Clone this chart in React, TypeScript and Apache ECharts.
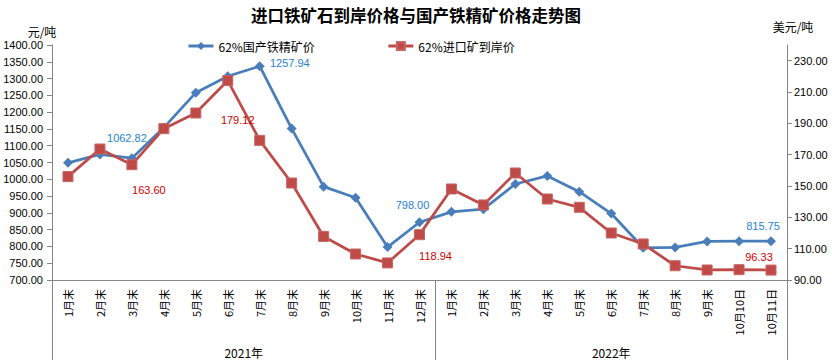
import React, { useEffect, useRef } from "react";
import * as echarts from "echarts";

const categories = [
  "1月末", "2月末", "3月末", "4月末", "5月末", "6月末", "7月末", "8月末", "9月末", "10月末", "11月末", "12月末",
  "1月末", "2月末", "3月末", "4月末", "5月末", "6月末", "7月末", "8月末", "9月末", "10月10日", "10月11日",
];
const years = ["2021年", "2022年"];
const domesticPrice = [
  1049, 1074, 1062.82, 1154, 1257.94, 1307, 1337, 1151, 978, 945, 798.0, 872,
  903, 911, 986, 1010, 963, 898, 796, 797, 815, 815.75, 815.75,
];
const importPrice = [
  156, 173.6, 163.6, 186.6, 196.6, 217.3, 179.12, 151.9, 117.8, 106.6, 100.9, 118.94,
  148.1, 137.9, 158.3, 141.7, 136.4, 120, 113, 99.1, 96.4, 96.6, 96.33,
];
const leftTicks = [700, 750, 800, 850, 900, 950, 1000, 1050, 1100, 1150, 1200, 1250, 1300, 1350, 1400];
const rightTicks = [90, 110, 130, 150, 170, 190, 210, 230];

const AXIS = "#868686";
const BLUE = "#4A7EBB";
const RED = "#BE4B48";
const BLUE_LABEL = "#1F7FD6";
const RED_LABEL = "#D00000";
const FONT = "Liberation Sans";

export default function App() {
  const ref = useRef<HTMLDivElement>(null);
  useEffect(() => {
    document.body.style.margin = "0";
    const chart = echarts.init(ref.current!, null, { renderer: "svg" });

    const blueLabels: Record<number, number[]> = { 2: [-5, -20], 4: [94, -30], 10: [25, -42], 22: [-8, -15] };
    const redLabels: Record<number, number[]> = { 2: [17, 25], 6: [-22, -20], 11: [16, 21], 22: [-12, -13] };

    const mk = (vals: number[], labels: Record<number, number[]>, color: string) =>
      vals.map((v, i) =>
        labels[i]
          ? {
              value: v,
              label: {
                show: true,
                position: "inside",
                offset: labels[i],
                formatter: () => v.toFixed(2),
                color,
                fontSize: 11,
                fontFamily: FONT,
              },
            }
          : v
      );

    chart.setOption({
      animation: false,
      title: {
        text: "进口铁矿石到岸价格与国产铁精矿价格走势图",
        left: "center",
        top: 2,
        textStyle: { fontSize: 16.5, fontWeight: "bold", color: "#000", fontFamily: "Noto Sans CJK SC" },
      },
      legend: {
        left: 182,
        top: 35,
        itemGap: 72,
        itemWidth: 25,
        itemHeight: 10,
        lineStyle: { width: 3 },
        textStyle: { fontSize: 12, color: "#000", fontFamily: "Noto Sans CJK SC" },
      },
      grid: { left: 52, right: 45, top: 45, bottom: 80 },
      xAxis: [
        {
          type: "category",
          data: categories,
          axisLine: { lineStyle: { color: AXIS, width: 1 } },
          axisTick: { interval: 0, length: 42, lineStyle: { color: AXIS } },
          axisLabel: { interval: 0, rotate: 90, fontSize: 11, color: "#000", margin: 9, fontFamily: "Noto Sans CJK SC" },
        },
        {
          type: "value",
          min: 0,
          max: 23,
          position: "bottom",
          axisLine: { show: false },
          splitLine: { show: false },
          axisTick: { show: true, customValues: [0, 12, 23], length: 80, lineStyle: { color: AXIS } },
          axisLabel: {
            customValues: [6, 17.5],
            formatter: (v: number) => (v < 12 ? years[0] : years[1]),
            margin: 66,
            fontSize: 12,
            color: "#000",
            fontFamily: "Noto Sans CJK SC",
          },
        },
      ],
      yAxis: [
        {
          type: "value",
          min: leftTicks[0],
          max: leftTicks[leftTicks.length - 1],
          interval: 50,
          name: "元/吨",
          nameLocation: "end",
          nameGap: 8,
          nameTextStyle: { fontSize: 12, color: "#000", padding: [0, 20, 0, 0], fontFamily: "Noto Sans CJK SC" },
          axisLine: { show: true, lineStyle: { color: AXIS } },
          axisTick: { show: true, length: 5, lineStyle: { color: AXIS } },
          splitLine: { show: false },
          axisLabel: { formatter: (v: number) => v.toFixed(2), fontSize: 11, color: "#000", margin: 9, fontFamily: FONT },
        },
        {
          type: "value",
          min: 90,
          max: 240,
          position: "right",
          name: "美元/吨",
          nameLocation: "end",
          nameGap: 13,
          nameTextStyle: { fontSize: 12, color: "#000", padding: [0, 0, 0, 12], fontFamily: "Noto Sans CJK SC" },
          axisLine: { show: true, lineStyle: { color: AXIS } },
          axisTick: { show: true, length: 5, customValues: rightTicks, lineStyle: { color: AXIS } },
          splitLine: { show: false },
          axisLabel: {
            customValues: rightTicks,
            formatter: (v: number) => v.toFixed(2),
            fontSize: 11,
            color: "#000",
            margin: 7,
            fontFamily: FONT,
          },
        },
      ],
      series: [
        {
          name: "62%国产铁精矿价",
          type: "line",
          yAxisIndex: 0,
          xAxisIndex: 0,
          data: mk(domesticPrice, blueLabels, BLUE_LABEL),
          symbol: "diamond",
          symbolSize: 10,
          color: BLUE,
          lineStyle: { width: 2.75, color: BLUE },
          itemStyle: { color: BLUE },
        },
        {
          name: "62%进口矿到岸价",
          type: "line",
          yAxisIndex: 1,
          xAxisIndex: 0,
          data: mk(importPrice, redLabels, RED_LABEL),
          symbol: "rect",
          symbolSize: 10,
          color: RED,
          lineStyle: { width: 2.75, color: RED },
          itemStyle: { color: RED, borderColor: "#C86664", borderWidth: 1 },
        },
      ],
    });
    return () => chart.dispose();
  }, []);
  return <div ref={ref} style={{ position: "absolute", left: 0, top: 0, width: 832, height: 360 }} />;
}
